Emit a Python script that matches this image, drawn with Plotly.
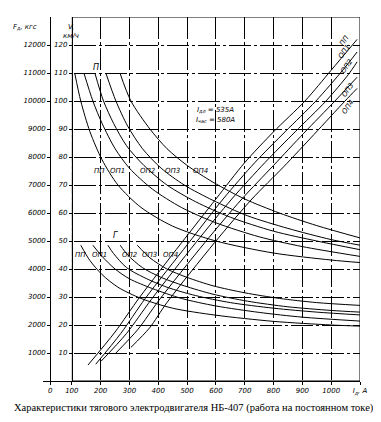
import plotly.graph_objects as go

# ---------------- data ----------------
# speed curves, upper group (km/h vs current A)
up_pp_I = [110, 131, 163, 205, 260, 340, 450, 600, 800, 1000, 1100]
up_pp_V = [110, 100, 89, 79, 70, 62, 55.3, 50, 45.7, 43.2, 42.3]
up_op1_I = [142, 173, 205, 250, 300, 380, 480, 600, 750, 900, 1100]
up_op1_V = [110, 100, 92, 83, 76, 68.5, 62, 56.5, 51.5, 48, 44.5]
up_op2_I = [180, 210, 245, 290, 350, 430, 530, 650, 800, 950, 1100]
up_op2_V = [110, 100, 92, 84, 77, 70, 64, 58.5, 53.5, 50, 46.9]
up_op3_I = [218, 253, 294, 345, 410, 490, 590, 710, 850, 1000, 1100]
up_op3_V = [110, 100, 91, 83, 76, 70, 64.5, 59, 54.5, 50.5, 48.5]
up_op4_I = [267, 305, 371, 430, 500, 590, 700, 820, 950, 1100]
up_op4_V = [110, 100, 90, 83, 77, 71, 65, 60, 55.5, 51.1]

# speed curves, lower group
lo_pp_I = [131, 163, 205, 260, 340, 450, 600, 800, 1000, 1100]
lo_pp_V = [48.5, 43, 38, 33.5, 29.5, 26, 23.5, 21.3, 20, 19.6]
lo_op1_I = [173, 205, 250, 300, 380, 480, 600, 750, 900, 1100]
lo_op1_V = [48.5, 44.5, 40, 36.5, 33, 29.5, 26.8, 24.5, 22.8, 21.4]
lo_op2_I = [225, 245, 290, 350, 430, 530, 650, 800, 950, 1100]
lo_op2_V = [48.5, 45.5, 40.5, 37, 33.5, 30.5, 28, 26, 24.6, 23.6]
lo_op3_I = [268, 294, 345, 410, 490, 590, 710, 850, 1000, 1100]
lo_op3_V = [48.5, 45, 40.5, 37, 34, 31, 28.5, 26.5, 25.2, 24.6]
lo_op4_I = [327, 371, 430, 500, 590, 700, 820, 950, 1100]
lo_op4_V = [48.5, 44, 40, 37, 34, 31.5, 29.5, 28, 27]

# traction force lines (kgf vs current A)
f_pp_I = [156, 250, 336, 478, 600, 700, 800, 909, 1000, 1090]
f_pp_F = [570, 1750, 3000, 4900, 6500, 7800, 8900, 10000, 11100, 12200]
f_op1_I = [183, 270, 355, 503, 625, 735, 840, 947, 1040, 1090]
f_op1_F = [600, 1700, 2950, 4900, 6500, 7800, 8900, 10000, 11100, 11750]
f_op2_I = [201, 290, 375, 531, 655, 770, 875, 982, 1060, 1090]
f_op2_F = [700, 1700, 2900, 4950, 6500, 7800, 8900, 10000, 10950, 11400]
f_op3_I = [253, 330, 400, 562, 690, 800, 905, 1013, 1090]
f_op3_F = [1000, 1850, 2850, 4950, 6500, 7700, 8850, 10000, 10850]
f_op4_I = [305, 370, 430, 596, 725, 835, 940, 1048, 1090]
f_op4_F = [1200, 1900, 2800, 4950, 6500, 7650, 8800, 10000, 10450]

curve_names = ["ПП", "ОП1", "ОП2", "ОП3", "ОП4"]
up_lbl_I = [197, 260, 364, 451, 545]
up_lbl_V = [75, 75, 75, 75, 75]
lo_lbl_I = [131, 197, 301, 371, 444]
lo_lbl_V = [45, 45, 45, 45, 45]
f_lbl_I = [1045, 1045, 1055, 1058, 1058]
f_lbl_F = [12150, 11750, 11250, 10400, 9800]

x_tick_vals = [25, 100, 200, 300, 400, 500, 600, 700, 800, 900, 1000, 1100]
x_tick_text = ["0", "100", "200", "300", "400", "500", "600", "700", "800", "900", "1000", "I<sub>д</sub>, А"]
v_ticks = [10, 20, 30, 40, 50, 60, 70, 80, 90, 100, 110, 120]
f_ticks = [1000, 2000, 3000, 4000, 5000, 6000, 7000, 8000, 9000, 10000, 11000, 12000]
f_tick_text = ["1000", "2000", "3000", "4000", "5000", "6000", "7000", "8000", "9000",
               "10000", "11000", "12000"]

caption = "Характеристики тягового электродвигателя НБ-407 (работа на постоянном токе)"
note1 = "I<sub>дл</sub> = 535А"
note2 = "I<sub>час</sub> = 580А"

# ---------------- figure ----------------
fig = go.Figure()
line = dict(color="black", width=1, shape="spline", smoothing=0.8)

for I, V in [(up_pp_I, up_pp_V), (up_op1_I, up_op1_V), (up_op2_I, up_op2_V),
             (up_op3_I, up_op3_V), (up_op4_I, up_op4_V),
             (lo_pp_I, lo_pp_V), (lo_op1_I, lo_op1_V), (lo_op2_I, lo_op2_V),
             (lo_op3_I, lo_op3_V), (lo_op4_I, lo_op4_V)]:
    fig.add_trace(go.Scatter(x=I, y=V, mode="lines", line=line, hoverinfo="skip"))

for I, F in [(f_pp_I, f_pp_F), (f_op1_I, f_op1_F), (f_op2_I, f_op2_F),
             (f_op3_I, f_op3_F), (f_op4_I, f_op4_F)]:
    fig.add_trace(go.Scatter(x=I, y=F, yaxis="y2", mode="lines", line=line, hoverinfo="skip"))

lblfont = dict(family="DejaVu Sans", size=7, color="black", style="italic")
for n, x, y in zip(curve_names, up_lbl_I, up_lbl_V):
    fig.add_annotation(x=x, y=y, text=n, showarrow=False, font=lblfont)
for n, x, y in zip(curve_names, lo_lbl_I, lo_lbl_V):
    fig.add_annotation(x=x, y=y, text=n, showarrow=False, font=lblfont)
for n, x, y in zip(curve_names, f_lbl_I, f_lbl_F):
    fig.add_annotation(x=x, y=y, yref="y2", text=n, showarrow=False, font=lblfont, textangle=-55)

fig.add_annotation(x=183, y=112, text="П", showarrow=False,
                   font=dict(family="DejaVu Sans", size=8, color="black", style="italic"))
fig.add_annotation(x=253, y=52, text="Г", showarrow=False,
                   font=dict(family="DejaVu Sans", size=8, color="black", style="italic"))
fig.add_annotation(x=597, y=96.8, text=note1, showarrow=False, font=lblfont)
fig.add_annotation(x=597, y=93.2, text=note2, showarrow=False, font=lblfont)

axfont = dict(family="DejaVu Sans", size=7, color="black", style="italic")
fig.add_annotation(xref="paper", yref="paper", x=-0.012, y=0.99, xanchor="right",
                   text="F<sub>д</sub>, кгс", showarrow=False, font=axfont)
fig.add_annotation(xref="paper", yref="paper", x=0.058, y=0.99, text="V,<br>км/ч",
                   showarrow=False, font=axfont)
fig.add_annotation(xref="paper", yref="paper", x=0.475, y=-0.096, text=caption, showarrow=False,
                   font=dict(family="Liberation Serif", size=10.5, color="black"))

# hide grid left of the speed axis; frame
fig.add_shape(type="rect", x0=0, x1=100, y0=0, y1=130, xref="x", yref="y",
              fillcolor="white", line=dict(width=0), layer="between")
fig.add_shape(type="rect", x0=100, x1=1100, y0=0, y1=130, xref="x", yref="y",
              line=dict(color="black", width=1), layer="below")

grid = dict(showgrid=True, gridcolor="black", gridwidth=1, griddash="22px,3px,3px,3px")
fig.update_layout(
    width=381, height=422, margin=dict(l=35, r=29, t=9, b=49),
    paper_bgcolor="white", plot_bgcolor="white", showlegend=False,
    xaxis=dict(range=[0, 1100], tickvals=x_tick_vals, ticktext=x_tick_text, ticks="outside",
               ticklen=3, tickcolor="black", showline=True, linecolor="black", linewidth=1,
               tickfont=axfont, zeroline=False, **grid),
    yaxis=dict(range=[0, 130], tickvals=v_ticks, anchor="free", position=100 / 1100,
               ticks="outside", ticklen=3, tickcolor="black", showline=True, linecolor="black",
               linewidth=1, tickfont=axfont, zeroline=False, **grid),
    yaxis2=dict(range=[0, 13000], tickvals=f_ticks, ticktext=f_tick_text, overlaying="y",
                anchor="free", position=25 / 1100, side="left", ticks="outside", ticklen=3,
                tickcolor="black", showline=True, linecolor="black", linewidth=1,
                tickfont=axfont, showgrid=False, zeroline=False),
)

fig.write_html("out.html")
